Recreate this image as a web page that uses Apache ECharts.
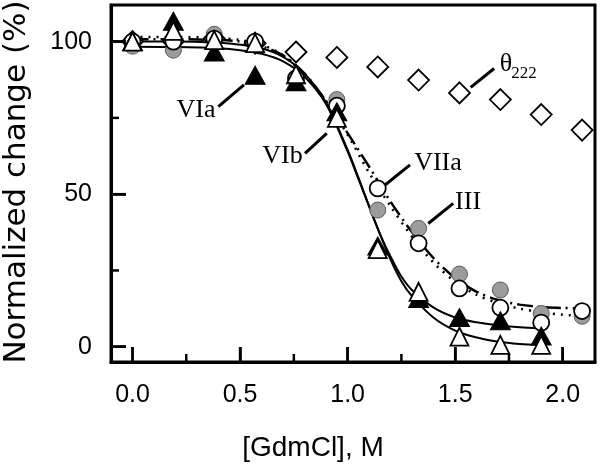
<!DOCTYPE html>
<html>
<head>
<meta charset="utf-8">
<script src="https://cdn.jsdelivr.net/npm/echarts@6/dist/echarts.min.js"></script>
<style>html,body{margin:0;padding:0;background:#fff;}#c{width:600px;height:466px;}</style>
</head>
<body>
<div id="c"></div>
<script>
// ---- data ----
const concX = [0, 0.19, 0.38, 0.57, 0.76, 0.95, 1.14, 1.33, 1.52, 1.71, 1.90, 2.09];
const VIa_pts = [100, 106.7, 96.6, 89, 86.8, 77, 33, 15.8, 9.6, 8.5, 3.5];
const VIb_pts = [100, 103.5, 100.5, 99.5, 89.3, 75, 32, 18, 3.3, 0.6, 0.6];
const III_pts = [98.5, 97.2, 102.4, 99.9, 87.4, 81, 44.8, 38.8, 23.8, 18.6, 10.9, 10.0];
const VIIa_pts = [100, 100, 101, 100, 88, 79, 51.9, 33.9, 19.1, 12.8, 7.9, 11.7];
const theta_pts = [100, 100, 101, 99.5, 96.6, 94.8, 91.7, 87.4, 83.2, 81.0, 76.1, 71.0];

// fitted curves
const VIa_cx = [0, 0.2, 0.4, 0.5, 0.6, 0.7, 0.8, 0.9, 1.0, 1.05, 1.1, 1.15, 1.2, 1.25, 1.3, 1.4, 1.5, 1.6, 1.7, 1.8, 1.9];
const VIa_cy = [98.3, 98.2, 97.8, 97.2, 96, 93.5, 88.5, 79.5, 64, 55, 46, 37, 29.5, 23, 18.5, 12.8, 9.6, 8, 7, 6.4, 6];
const VIb_cx = [-0.1, 0, 0.2, 0.4, 0.5, 0.6, 0.7, 0.8, 0.9, 1.0, 1.05, 1.1, 1.15, 1.2, 1.25, 1.3, 1.4, 1.5, 1.6, 1.7, 1.8, 1.9];
const VIb_cy = [100, 100, 100, 99.6, 99, 97.8, 95, 89.5, 80, 64.5, 55.5, 46, 37, 28.5, 21.5, 16.5, 9.5, 5.3, 3, 1.6, 0.9, 0.6];
const VIIa_cx = [0, 0.2, 0.4, 0.5, 0.6, 0.7, 0.8, 0.9, 1.0, 1.1, 1.2, 1.3, 1.4, 1.5, 1.6, 1.7, 1.8, 1.9, 2.0, 2.1];
const VIIa_cy = [100.8, 100.8, 100.5, 100, 98.5, 95.5, 89.5, 80.5, 70, 59, 47.5, 37.5, 29, 22.5, 18, 15.3, 13.8, 13, 12.7, 12.6];
const III_cx = [0, 0.2, 0.4, 0.5, 0.6, 0.7, 0.8, 0.9, 1.0, 1.1, 1.2, 1.3, 1.4, 1.5, 1.6, 1.7, 1.8, 1.9, 2.0, 2.1];
const III_cy = [101.5, 101.5, 101.2, 100.5, 99, 95.5, 89, 80.5, 69.5, 57, 46, 36, 27.5, 21.3, 17, 14.3, 12.5, 11.3, 10.5, 10];

const xMajor = [0, 0.5, 1, 1.5, 2];
const xMinor = [0.25, 0.75, 1.25, 1.75];
const yMajor = [0, 50, 100];
const yMinor = [25, 75];

// annotations (data coordinates)
const labels = [
  {text: 'VIa', at: [0.295, 77.6], line: [[0.399, 78.7], [0.518, 85.8]]},
  {text: 'VIb', at: [0.697, 62.5], line: [[0.802, 63.4], [0.903, 69.9]]},
  {text: 'VIIa', at: [1.42, 60.2], line: [[1.174, 53.0], [1.29, 59.6]]},
  {text: 'III', at: [1.56, 47.4], line: [[1.375, 40.4], [1.491, 47.0]]},
  {text: 'θ', at: [1.736, 92.7], line: [[1.572, 85.0], [1.681, 91.2]]}
];
const thetaSub = {text: '222', at: [1.82, 89.4]};

const X_MIN = -0.1, X_MAX = 2.15, Y_MIN = -5, Y_MAX = 112;

// ---- chart ----
const zip = (xs, ys) => ys.map((y, i) => [xs[i], y]);
const chart = echarts.init(document.getElementById('c'));
const curve = (name, xs, ys, type) => ({
  name, type: 'line', data: zip(xs, ys), showSymbol: false, smooth: 0.3, z: 2,
  lineStyle: {color: '#000', width: type === 'solid' ? 2 : 2.5, type}, silent: true
});
const scat = (name, ys, symbol, size, item, z) => ({
  name, type: 'scatter', data: zip(concX, ys), symbol, symbolSize: size, z,
  itemStyle: Object.assign({opacity: 1}, item), silent: true
});
// tick axes: the major axes carry the labels; extra axes, shifted onto the frame, carry the ticks
const tickAxisX = (vals, len) => ({
  type: 'value', min: X_MIN, max: X_MAX, position: 'top', offset: 0, splitLine: {show: false},
  axisLine: {show: false, onZero: true},
  axisTick: {show: true, inside: true, length: len, customValues: vals, lineStyle: {color: '#000', width: 2.5}},
  axisLabel: {show: false}
});
const tickAxisY = (vals, len) => ({
  type: 'value', min: Y_MIN, max: Y_MAX, position: 'right', offset: 0, splitLine: {show: false},
  axisLine: {show: false, onZero: true},
  axisTick: {show: true, inside: true, length: len, customValues: vals, lineStyle: {color: '#000', width: 2.5}},
  axisLabel: {show: false}
});
chart.setOption({
  animation: false,
  grid: {left: 111, top: 5, right: 5, bottom: 104, show: true, borderColor: '#000', borderWidth: 3},
  xAxis: [{
    type: 'value', min: X_MIN, max: X_MAX, position: 'bottom', splitLine: {show: false},
    axisLine: {show: true, onZero: false, lineStyle: {color: '#000', width: 3}},
    axisTick: {show: true, inside: true, length: 15, customValues: xMajor, lineStyle: {color: '#000', width: 2.5}},
    axisLabel: {show: true, customValues: xMajor, formatter: v => v.toFixed(1), color: '#000', fontSize: 25, fontFamily: 'Liberation Sans', margin: 21}
  }],
  yAxis: [{
    type: 'value', min: Y_MIN, max: Y_MAX, position: 'left', splitLine: {show: false},
    axisLine: {show: true, onZero: false, lineStyle: {color: '#000', width: 3}},
    axisTick: {show: true, inside: true, length: 15, customValues: yMajor, lineStyle: {color: '#000', width: 2.5}},
    axisLabel: {show: true, customValues: yMajor, color: '#000', fontSize: 25, fontFamily: 'Liberation Sans', margin: 19}
  }],
  series: [
    curve('VIb fit', VIb_cx, VIb_cy, 'solid'),
    curve('VIa fit', VIa_cx, VIa_cy, 'solid'),
    curve('VIIa fit', VIIa_cx, VIIa_cy, [16, 5, 2, 5]),
    curve('III fit', III_cx, III_cy, [2, 6]),
    scat('θ222', theta_pts, 'diamond', 21, {color: '#fff', borderColor: '#000', borderWidth: 1.8}, 3),
    scat('III', III_pts, 'circle', 16, {color: '#9c9c9c', borderColor: '#5a5a5a', borderWidth: 1}, 4),
    scat('VIIa', VIIa_pts, 'circle', 16, {color: '#fff', borderColor: '#000', borderWidth: 1.8}, 5),
    scat('VIa', VIa_pts, 'triangle', [20, 18], {color: '#000', borderColor: '#000', borderWidth: 1}, 6),
    scat('VIb', VIb_pts, 'triangle', 18, {color: '#fff', borderColor: '#000', borderWidth: 1.8}, 7)
  ]
});

const px = p => chart.convertToPixel({xAxisIndex: 0, yAxisIndex: 0}, p);
const g = [];
// inside ticks drawn as filled rectangles (avoids zero-area line boxes), positioned through the scales
const tickRect = (cx, cy, w, h) => ({type: 'rect', silent: true, shape: {x: cx, y: cy, width: w, height: h}, style: {fill: '#000'}, z: 100});
xMajor.forEach(v => { const p = px([v, Y_MIN]); g.push(tickRect(p[0] - 1.25, p[1] - 15, 2.5, 15)); });
xMinor.forEach(v => { const p = px([v, Y_MIN]); g.push(tickRect(p[0] - 1.25, p[1] - 8, 2.5, 8)); });
yMajor.forEach(v => { const p = px([X_MIN, v]); g.push(tickRect(p[0], p[1] - 1.25, 15, 2.5)); });
yMinor.forEach(v => { const p = px([X_MIN, v]); g.push(tickRect(p[0], p[1] - 1.25, 8, 2.5)); });
labels.forEach(l => {
  const c = px(l.at), a = px(l.line[0]), b = px(l.line[1]);
  g.push({type: 'line', shape: {x1: a[0], y1: a[1], x2: b[0], y2: b[1]}, style: {stroke: '#000', lineWidth: 3}, z: 20});
  g.push({type: 'text', x: c[0], y: c[1], style: {text: l.text, fill: '#000', font: '26px "Liberation Serif"', align: 'center', verticalAlign: 'middle'}, z: 20});
});
const sp = px(thetaSub.at);
g.push({type: 'text', x: sp[0], y: sp[1], style: {text: thetaSub.text, fill: '#000', font: '17px "Liberation Serif"', align: 'center', verticalAlign: 'middle'}, z: 20});
g.push({type: 'text', x: 17, y: 182, rotation: Math.PI / 2, style: {text: 'Normalized change (%)', fill: '#000', font: '31px "DejaVu Sans"', align: 'center', verticalAlign: 'middle'}, z: 20});
g.push({type: 'text', x: 313, y: 448, style: {text: '[GdmCl], M', fill: '#000', font: '28px "Liberation Sans"', align: 'center', verticalAlign: 'middle'}, z: 20});
chart.setOption({graphic: g});
</script>
</body>
</html>
